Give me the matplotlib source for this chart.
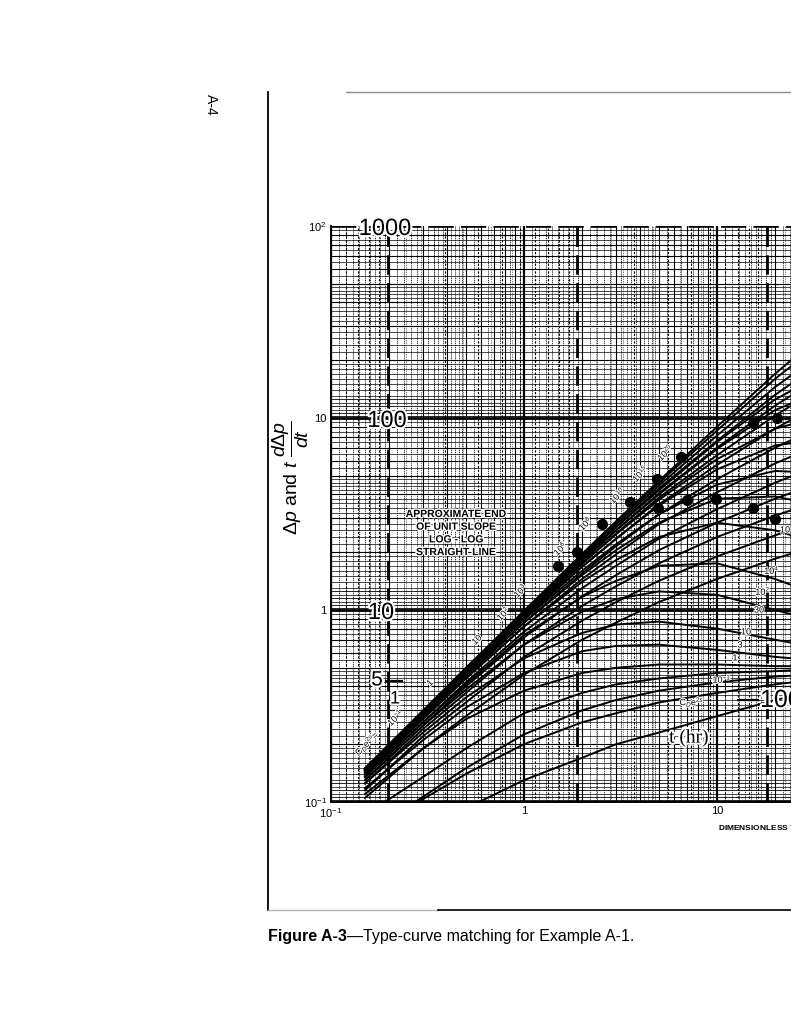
import numpy as np
import matplotlib
matplotlib.use("Agg")
import matplotlib.pyplot as plt
import matplotlib.patheffects as pe
from matplotlib.ticker import NullLocator

plt.rcParams['font.family'] = ['Liberation Sans', 'DejaVu Sans']
plt.rcParams['mathtext.fontset'] = 'custom'
plt.rcParams['mathtext.rm'] = 'Liberation Sans'
plt.rcParams['mathtext.it'] = 'Liberation Sans:italic'
plt.rcParams['mathtext.bf'] = 'Liberation Sans:bold'

# ---------------- data ----------------
td_cd = [0.15, 0.3, 0.5, 1, 2, 3, 5, 10, 20, 30]

# pressure type curves, C_D e^{2s} from 1e40 down to 1
p_1e40 = [0.150, 0.300, 0.500, 0.99, 1.96, 2.90, 4.70, 9.0, 17.0, 24.0]
p_1e30 = [0.149, 0.298, 0.495, 0.98, 1.93, 2.85, 4.60, 8.6, 16.0, 22.0]
p_1e20 = [0.148, 0.296, 0.490, 0.97, 1.90, 2.78, 4.45, 8.1, 14.5, 19.5]
p_1e15 = [0.147, 0.293, 0.485, 0.96, 1.86, 2.70, 4.30, 7.6, 13.2, 17.5]
p_1e10 = [0.146, 0.290, 0.480, 0.94, 1.80, 2.60, 4.05, 7.0, 11.6, 15.0]
p_1e8 = [0.145, 0.287, 0.470, 0.92, 1.75, 2.50, 3.85, 6.4, 10.3, 13.2]
p_1e6 = [0.143, 0.283, 0.460, 0.90, 1.68, 2.35, 3.55, 5.7, 8.8, 11.0]
p_1e4 = [0.140, 0.275, 0.450, 0.86, 1.55, 2.15, 3.15, 4.8, 7.0, 8.5]
p_1e3 = [0.138, 0.270, 0.440, 0.82, 1.45, 1.95, 2.80, 4.1, 5.8, 6.9]
p_1e2 = [0.135, 0.260, 0.420, 0.77, 1.30, 1.70, 2.35, 3.35, 4.6, 5.4]
p_30 = [0.130, 0.250, 0.400, 0.72, 1.18, 1.52, 2.05, 2.85, 3.8, 4.4]
p_10 = [0.125, 0.240, 0.370, 0.66, 1.05, 1.33, 1.75, 2.40, 3.1, 3.55]
p_3 = [0.115, 0.220, 0.330, 0.57, 0.88, 1.10, 1.42, 1.90, 2.45, 2.8]
p_1 = [0.105, 0.190, 0.280, 0.46, 0.70, 0.86, 1.10, 1.45, 1.85, 2.1]

# derivative type curves
d_1e40 = [0.149, 0.297, 0.490, 0.96, 1.85, 2.70, 4.20, 7.5, 12.5, 15.5]
d_1e30 = [0.148, 0.295, 0.485, 0.95, 1.80, 2.60, 4.00, 6.9, 11.0, 13.0]
d_1e20 = [0.147, 0.292, 0.480, 0.93, 1.74, 2.48, 3.75, 6.1, 8.8, 9.8]
d_1e15 = [0.146, 0.290, 0.475, 0.91, 1.68, 2.35, 3.50, 5.4, 7.2, 7.6]
d_1e10 = [0.145, 0.285, 0.465, 0.89, 1.60, 2.20, 3.15, 4.5, 5.3, 5.2]
d_1e8 = [0.143, 0.280, 0.455, 0.86, 1.52, 2.05, 2.85, 3.8, 3.9, 3.6]
d_1e6 = [0.140, 0.275, 0.440, 0.82, 1.40, 1.82, 2.40, 2.85, 2.6, 2.3]
d_1e4 = [0.135, 0.260, 0.410, 0.74, 1.17, 1.42, 1.70, 1.75, 1.45, 1.25]
d_1e3 = [0.130, 0.250, 0.385, 0.66, 0.98, 1.14, 1.25, 1.20, 1.00, 0.90]
d_1e2 = [0.125, 0.230, 0.350, 0.56, 0.76, 0.84, 0.87, 0.80, 0.70, 0.65]
d_30 = [0.118, 0.210, 0.310, 0.47, 0.61, 0.65, 0.66, 0.62, 0.57, 0.55]
d_10 = [0.110, 0.190, 0.270, 0.38, 0.47, 0.50, 0.52, 0.52, 0.51, 0.51]

d_3_t = [0.19, 0.3, 0.5, 1, 2, 3, 5, 10, 20, 30]
d_3 = [0.10, 0.135, 0.19, 0.29, 0.37, 0.41, 0.44, 0.47, 0.48, 0.49]
d_1_t = [0.273, 0.5, 1, 2, 3, 5, 10, 20, 30]
d_1 = [0.10, 0.15, 0.225, 0.30, 0.34, 0.38, 0.42, 0.45, 0.46]
d_03_t = [0.283, 0.5, 1, 2, 3, 5, 10, 20, 30]
d_03 = [0.10, 0.14, 0.20, 0.26, 0.29, 0.33, 0.37, 0.41, 0.43]
d_01_t = [0.585, 1, 2, 3, 5, 10, 20, 30]
d_01 = [0.10, 0.13, 0.17, 0.20, 0.23, 0.28, 0.34, 0.37]

# field data (matched), pressure and derivative
data_t = [1.50, 1.88, 2.53, 3.54, 4.89, 6.51, 15.4, 20.5]
data_dp = [1.69, 2.00, 2.81, 3.65, 4.81, 6.27, 9.42, 10.0]
deriv_t = [4.94, 6.99, 9.88, 15.4, 20.0]
deriv_dp = [3.40, 3.74, 3.79, 3.40, 2.98]

x_ticks = [0.1, 1, 10]
x_tick_labels = ['10$^{-1}$', '1', '10']
y_ticks = [0.1, 1, 10, 100]
y_tick_labels = ['10$^{-1}$', '1', '10', '10$^{2}$']
hours_major = [1, 10, 100]

# ---------------- figure ----------------
W, H = 791, 1024
fig = plt.figure(figsize=(W / 100, H / 100), dpi=100)


def F(px, py):
    return px / W, 1 - py / H


ax = fig.add_axes([331 / W, 1 - 802 / H, 772 / W, 576 / H])
ax.set_xscale('log')
ax.set_yscale('log')
ax.set_xlim(0.1, 1000)
ax.set_ylim(0.1, 100)

# chart log paper grid
fine = list(np.arange(1.1, 2.0, 0.1)) + list(np.arange(2.2, 5.0, 0.2)) + list(np.arange(5.5, 10, 0.5))
for d in range(-1, 3):
    base = 10.0 ** d
    for m in fine:
        if abs(m - round(m)) > 1e-6:
            ax.axvline(m * base, color='k', lw=0.55, ls=(0, (1.5, 1)), zorder=1)
            ax.axhline(m * base, color='k', lw=0.5, zorder=1)
    for m in range(2, 10):
        ax.axvline(m * base, color='k', lw=0.8, zorder=1)
        ax.axhline(m * base, color='k', lw=0.8, zorder=1)
    ax.axvline(base, color='k', lw=1.6, zorder=1)
    if d < 2:
        ax.axhline(base, color='k', lw=2.0, zorder=1)
    for m in [1.03, 1.06, 1.15, 1.25]:
        ax.axhline(base * m, color='k', lw=0.6, zorder=1)

# overlay (tracing paper) grid: t(hr) axis, shifted
trace_x0 = 0.197
trace_scale = 0.982
for e in range(-1, 3):
    for m in range(2, 10):
        ax.axvline(trace_x0 * (m * 10.0 ** e) ** trace_scale, color='k', lw=0.8,
                   ls=(0, (2, 1.5)), zorder=1)
    for m in [1.25, 1.5, 1.75, 2.5, 3.5, 4.5]:
        ax.axvline(trace_x0 * (m * 10.0 ** e) ** trace_scale, color='k', lw=0.5,
                   ls=(0, (1, 1.5)), zorder=1)
for h in hours_major:
    ax.axvline(trace_x0 * h ** trace_scale, color='k', lw=2.0, ls=(0, (7, 3)), zorder=2)
ax.axhline(100, color='k', lw=2.6, ls=(0, (7, 2)), zorder=2)

# type curves
for c in [p_1e40, p_1e30, p_1e20, p_1e15, p_1e10, p_1e8, p_1e6, p_1e4, p_1e3,
          p_1e2, p_30, p_10, p_3, p_1]:
    ax.plot(td_cd, c, color='k', lw=1.4, zorder=3)
for c in [d_1e40, d_1e30, d_1e20, d_1e15, d_1e10, d_1e8, d_1e6, d_1e4, d_1e3,
          d_1e2, d_30, d_10]:
    ax.plot(td_cd, c, color='k', lw=1.4, zorder=3)
for tt, c in [(d_3_t, d_3), (d_1_t, d_1), (d_03_t, d_03), (d_01_t, d_01)]:
    ax.plot(tt, c, color='k', lw=1.4, zorder=3)

ax.plot(data_t, data_dp, 'o', color='k', ms=7, zorder=4)
ax.plot(deriv_t, deriv_dp, 'o', color='k', ms=7, zorder=4)

# axes cosmetics
for s in ['top', 'right']:
    ax.spines[s].set_visible(False)
ax.spines['left'].set_linewidth(1.4)
ax.spines['bottom'].set_linewidth(1.4)
ax.set_xticks(x_ticks)
ax.set_xticklabels(x_tick_labels)
ax.set_yticks(y_ticks)
ax.set_yticklabels(y_tick_labels)
ax.xaxis.set_minor_locator(NullLocator())
ax.yaxis.set_minor_locator(NullLocator())
ax.tick_params(length=0, labelsize=8, pad=3)

# axis labels
fig.text(*F(291, 478), r'$\Delta p$ and $t\ \dfrac{d\Delta p}{dt}$', rotation=90,
         ha='center', va='center', fontsize=14)
fig.text(*F(718, 828), 'DIMENSIONLESS TIME, $t_D/C_D$', ha='left', va='center',
         fontsize=6, fontweight='bold')

# overlay labels
halo = [pe.withStroke(linewidth=3, foreground='white')]
for txt, px, py, fs in [('1000', 385, 229, 17), ('100', 387, 421, 17),
                        ('10', 381, 613, 17), ('5', 377, 680, 15)]:
    fig.text(*F(px, py), txt, ha='center', va='center', fontsize=fs, path_effects=halo)
fig.text(*F(395, 699), '1', ha='center', va='center', fontsize=13, path_effects=halo)
fig.text(*F(760, 700), '100', ha='left', va='center', fontsize=18, path_effects=halo)
fig.text(*F(689, 738), 't (hr)', ha='center', va='center', fontsize=14,
         family='Liberation Serif', path_effects=halo)
# short overlay axis ticks beside the labels
for x0, x1, yy in [(386, 402, 681), (738, 758, 700)]:
    fig.add_artist(plt.Line2D([x0 / W, x1 / W], [1 - yy / H, 1 - yy / H], color='k', lw=1.6))

# note box
for i, line in enumerate(['APPROXIMATE END', 'OF UNIT SLOPE', 'LOG - LOG', 'STRAIGHT LINE']):
    fig.text(*F(456, 514 + 12.7 * i), line, ha='center', va='center', fontsize=7.5,
             fontweight='bold', path_effects=[pe.withStroke(linewidth=2, foreground='white')])

# curve labels
lab_halo = [pe.withStroke(linewidth=1.5, foreground='white')]
for txt, px, py in [('C$_D$e$^{2s}$=', 367, 743), ('10$^{-1}$', 395, 717), ('1', 430, 683),
                    ('10', 477, 640), ('10$^{2}$', 503, 613), ('10$^{3}$', 520, 590),
                    ('10$^{6}$', 560, 548), ('10$^{8}$', 585, 523), ('10$^{10}$', 617, 495),
                    ('10$^{15}$', 640, 473), ('10$^{20}$', 665, 452)]:
    fig.text(*F(px, py), txt, rotation=45, ha='center', va='center', fontsize=6.5,
             path_effects=lab_halo)
for txt, px, py in [('10', 785, 530), ('10$^{4}$', 772, 570), ('10$^{2}$', 763, 591),
                    ('30', 759, 610), ('10', 746, 632), ('3', 740, 645), ('1', 735, 658),
                    ('10$^{-1}$', 722, 679), ('C$_D$e$^{2s}$', 692, 702)]:
    fig.text(*F(px, py), txt, ha='center', va='center', fontsize=6.5, path_effects=lab_halo)

# page frame and captions
fig.add_artist(plt.Line2D([268 / W, 268 / W], [1 - 92 / H, 1 - 910 / H], color='k', lw=1.3))
fig.add_artist(plt.Line2D([346 / W, 1.0], [1 - 92 / H, 1 - 92 / H], color='0.55', lw=1.0))
fig.add_artist(plt.Line2D([268 / W, 438 / W], [1 - 910 / H, 1 - 910 / H], color='0.7', lw=1.0))
fig.add_artist(plt.Line2D([438 / W, 1.0], [1 - 910 / H, 1 - 910 / H], color='k', lw=1.2))
fig.text(*F(211, 105), 'A-4', rotation=-90, ha='center', va='center', fontsize=10)
t1 = fig.text(*F(268, 937), 'Figure A-3', ha='left', va='center', fontsize=11.5,
              fontweight='bold')
fig.canvas.draw()
bb = t1.get_window_extent()
fig.text(bb.x1 / W, 1 - 937 / H, '\u2014Type-curve matching for Example A-1.', ha='left',
         va='center', fontsize=11.5)

fig.savefig('out.png', dpi=100)
